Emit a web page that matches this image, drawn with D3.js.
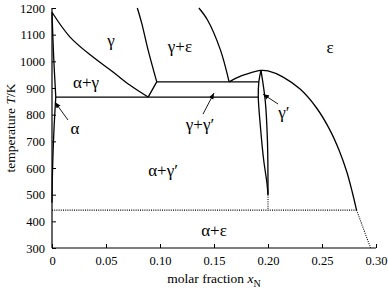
<!DOCTYPE html>
<html>
<head>
<meta charset="utf-8">
<script src="https://cdn.jsdelivr.net/npm/d3@7"></script>
<style>
  body { margin: 0; background: #fff; }
</style>
</head>
<body>
<svg id="chart" width="388" height="292"></svg>
<script>
var FONT = "'Liberation Serif', 'Times New Roman', 'DejaVu Serif', serif";

// ticks
var xTicks = [0, 0.05, 0.10, 0.15, 0.20, 0.25, 0.30];
var tTicks = [300, 400, 500, 600, 700, 800, 900, 1000, 1100, 1200];

// phase boundaries as [x_N, T/K]
var gammaAlphaGamma = [[0, 1184], [0.0167, 1091], [0.038, 1016], [0.0565, 960], [0.072, 911], [0.089, 866]];
var alphaAlphaGamma = [[0, 1184], [0.0015, 1020], [0.0035, 866]];
var alphaSolvus = [[0.0035, 866], [0.002, 760], [0.001, 660], [0.0003, 560], [0, 470]];
var eutectoid = [[0.0035, 866], [0.191, 866]];
var gammaGammaPrime = [[0.089, 866], [0.097, 923]];
var peritectoid = [[0.097, 923], [0.1915, 923]];
var gammaGammaEps = [[0.097, 923], [0.089, 1042], [0.083, 1144], [0.079, 1200]];
var epsGammaEps = [[0.164, 923], [0.156, 1042], [0.144, 1155], [0.136, 1200]];
var epsDome = [[0.164, 923], [0.172, 940], [0.180, 952], [0.1935, 966], [0.200, 964], [0.214, 941],
               [0.230, 895], [0.245, 825], [0.257, 745], [0.266, 665], [0.273, 585], [0.278, 510], [0.282, 442]];
var gpLeft = [[0.1935, 966], [0.1915, 922], [0.191, 866], [0.193, 754], [0.196, 630], [0.199, 544], [0.2, 500]];
var gpRight = [[0.1935, 966], [0.1975, 850], [0.1995, 700], [0.2, 500]];

// metastable (dotted)
var dotVert = [[0.2, 500], [0.2, 442]];
var dotHoriz = [[0, 442], [0.282, 442]];
var dotSlant = [[0.282, 442], [0.295, 300]];

// region labels: text, x_N, T (label centre)
var regionLabels = [
  ["γ", 0.0546, 1080],
  ["γ+ε", 0.1185, 1058],
  ["ε", 0.2574, 1054],
  ["α+γ", 0.0315, 922],
  ["α", 0.0213, 750],
  ["γ+γ′", 0.137, 765],
  ["γ′", 0.2148, 810],
  ["α+γ′", 0.1028, 592],
  ["α+ε", 0.150, 367]
];
// arrows: from label to region, [x1,T1,x2,T2]
var arrows = [
  [0.0148, 780, 0.0028, 847],
  [0.1398, 802, 0.150, 881],
  [0.2093, 840, 0.1954, 877]
];

var svg = d3.select("#chart");
var x = d3.scaleLinear().domain([0, 0.30]).range([52, 376]);
var y = d3.scaleLinear().domain([300, 1200]).range([248, 8]);

var defs = svg.append("defs");
defs.append("marker")
  .attr("id", "arr")
  .attr("viewBox", "0 0 10 10")
  .attr("refX", 10).attr("refY", 5)
  .attr("markerWidth", 6).attr("markerHeight", 6)
  .attr("markerUnits", "userSpaceOnUse")
  .attr("orient", "auto")
  .append("path").attr("d", "M0,1L10,5L0,9Z").attr("fill", "#000");

// axes
var xAxis = d3.axisBottom(x).tickValues(xTicks).tickSize(-4).tickPadding(8)
  .tickFormat(function(d){ return d === 0 ? "0" : d3.format(".2f")(d); });
var yAxis = d3.axisLeft(y).tickValues(tTicks).tickSize(-4).tickPadding(7)
  .tickFormat(d3.format("d"));

var gx = svg.append("g").attr("transform", "translate(0,248)").call(xAxis);
var gy = svg.append("g").attr("transform", "translate(52,0)").call(yAxis);
[gx, gy].forEach(function(g){
  g.attr("font-family", FONT);
  g.select(".domain").attr("stroke", "#000").attr("stroke-width", 1.2);
  g.selectAll(".tick line").attr("stroke", "#000");
  g.selectAll(".tick text").attr("font-size", 12.5).attr("fill", "#000");
});
gy.select(".domain").attr("d", "M0,248V8");
gx.select(".domain").attr("d", "M52,0H376");

// boundaries
var line = d3.line().x(function(d){ return x(d[0]); }).y(function(d){ return y(d[1]); });
var smooth = d3.line().x(function(d){ return x(d[0]); }).y(function(d){ return y(d[1]); })
  .curve(d3.curveCatmullRom.alpha(0.5));

var solid = [gammaAlphaGamma, alphaAlphaGamma, alphaSolvus, gammaGammaEps, epsGammaEps, epsDome, gpLeft, gpRight];
svg.append("g").selectAll("path")
  .data(solid).enter().append("path")
    .attr("d", smooth)
    .attr("fill", "none").attr("stroke", "#000").attr("stroke-width", 1.3);

svg.append("g").selectAll("path")
  .data([eutectoid, gammaGammaPrime, peritectoid]).enter().append("path")
    .attr("d", line)
    .attr("fill", "none").attr("stroke", "#000").attr("stroke-width", 1.3);

svg.append("g").selectAll("path")
  .data([dotVert, dotHoriz, dotSlant]).enter().append("path")
    .attr("d", line)
    .attr("fill", "none").attr("stroke", "#000").attr("stroke-width", 1.1)
    .attr("stroke-dasharray", "1,1.2");

// arrows
svg.append("g").selectAll("line")
  .data(arrows).enter().append("line")
    .attr("x1", function(d){ return x(d[0]); })
    .attr("y1", function(d){ return y(d[1]); })
    .attr("x2", function(d){ return x(d[2]); })
    .attr("y2", function(d){ return y(d[3]); })
    .attr("stroke", "#000").attr("stroke-width", 0.9)
    .attr("marker-end", "url(#arr)");

// region labels
svg.append("g").selectAll("text")
  .data(regionLabels).enter().append("text")
    .attr("x", function(d){ return x(d[1]); })
    .attr("y", function(d){ return y(d[2]); })
    .attr("dy", "0.35em")
    .attr("text-anchor", "middle")
    .attr("font-family", FONT)
    .attr("font-size", 17)
    .text(function(d){ return d[0]; });

// axis titles
var yt = svg.append("text")
  .attr("transform", "translate(15,128) rotate(-90)")
  .attr("text-anchor", "middle")
  .attr("font-family", FONT)
  .attr("font-size", 13.5);
yt.append("tspan").text("temperature ");
yt.append("tspan").attr("font-style", "italic").text("T");
yt.append("tspan").text("/K");

var xt = svg.append("text")
  .attr("x", 214).attr("y", 283)
  .attr("text-anchor", "middle")
  .attr("font-family", FONT)
  .attr("font-size", 13.5);
xt.append("tspan").text("molar fraction ");
xt.append("tspan").attr("font-style", "italic").text("x");
xt.append("tspan").attr("font-size", 10).attr("dy", 4).text("N");
</script>
</body>
</html>
